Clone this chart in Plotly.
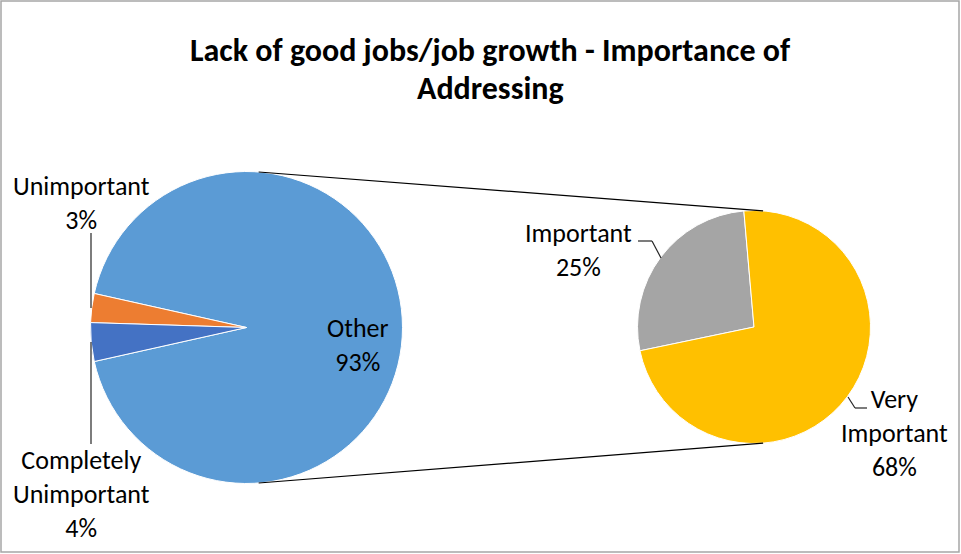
import math
import plotly.graph_objects as go

# ---- data ----
main_labels = ["Other", "Unimportant", "Completely Unimportant"]
main_values = [93, 3, 4]
main_colors = ["#5B9BD5", "#ED7D31", "#4472C4"]

sub_labels = ["Important", "Very Important"]
sub_values = [25, 68]
sub_colors = ["#A5A5A5", "#FFC000"]

title_lines = ["Lack of good jobs/job growth - Importance of", "Addressing"]

W, H = 961, 554
FONT = "Calibri, Carlito, Lato, sans-serif"

# ---- geometry (pixels) ----
c1 = (246.5, 327.5); r1 = 156.0   # main pie
c2 = (754.0, 327.0); r2 = 116.5   # secondary pie


def px(x):
    return x / W


def py(y):
    return 1 - y / H


def domain(c, r):
    return dict(x=[px(c[0] - r), px(c[0] + r)], y=[py(c[1] + r), py(c[1] - r)])


# With direction="counterclockwise" plotly places the first slice clockwise
# from `rotation`; later slices continue counterclockwise from it.
# main pie: "Other" centred on the right, small slices grouped on the left
small_deg = (100 - main_values[0]) / 100 * 360
main_rotation = 90 - (180 - small_deg / 2)

# secondary pie: "Important" starts just left of 12 o'clock, runs counterclockwise
sub_total = sum(sub_values)
sub_rotation = -5 - sub_values[0] / sub_total * 360

fig = go.Figure()
fig.add_trace(go.Pie(
    labels=main_labels, values=main_values, sort=False,
    direction="counterclockwise", rotation=main_rotation,
    marker=dict(colors=main_colors, line=dict(color="white", width=1)),
    textinfo="none", hoverinfo="label+percent", showlegend=False,
    domain=domain(c1, r1),
))
fig.add_trace(go.Pie(
    labels=sub_labels, values=sub_values, sort=False,
    direction="counterclockwise", rotation=sub_rotation,
    marker=dict(colors=sub_colors, line=dict(color="white", width=1)),
    textinfo="none", hoverinfo="label+value", showlegend=False,
    domain=domain(c2, r2),
))

shapes = []
# outer tangent lines joining the two pies
d = c2[0] - c1[0]
s = (r1 - r2) / d
co = math.sqrt(1 - s * s)
for sign in (-1, 1):
    x0 = c1[0] + r1 * s; y0 = c1[1] + sign * r1 * co
    x1 = c2[0] + r2 * s; y1 = c2[1] + sign * r2 * co
    shapes.append(dict(type="line", xref="paper", yref="paper",
                       x0=px(x0), y0=py(y0), x1=px(x1), y1=py(y1),
                       line=dict(color="black", width=1.2)))

# leader lines for the outside labels
leaders = [
    [(91, 233), (91, 308)],
    [(91, 342), (91, 444)],
    [(638, 241), (652, 241), (661, 258)],
    [(867, 408), (855, 408), (848, 397)],
]
for pts in leaders:
    for (ax, ay), (bx, by) in zip(pts[:-1], pts[1:]):
        shapes.append(dict(type="line", xref="paper", yref="paper",
                           x0=px(ax), y0=py(ay), x1=px(bx), y1=py(by),
                           line=dict(color="#262626", width=1.2)))

# chart border
shapes.append(dict(type="rect", xref="paper", yref="paper",
                   x0=px(1), y0=py(552), x1=px(959), y1=py(1),
                   line=dict(color="#A6A6A6", width=1.5)))

annotations = []
# title, one line per annotation
for line, y in zip(title_lines, (51, 88)):
    annotations.append(dict(text="<b>" + line + "</b>",
                            x=px(490), y=py(y), xref="paper", yref="paper",
                            showarrow=False, xanchor="center", yanchor="middle",
                            font=dict(family=FONT, size=32, color="black")))

label_pos = {
    "Other": (358, 345),
    "Unimportant": (81, 203),
    "Completely Unimportant": (81, 494),
    "Important": (578, 250),
    "Very Important": (894, 433),
}
for names, vals in ((main_labels, main_values), (sub_labels, sub_values)):
    for name, v in zip(names, vals):
        if name in ("Unimportant", "Important"):
            txt = f"{name}<br>{v}%"
        else:
            txt = f"{name.replace(' ', '<br>')}<br>{v}%"
        x, y = label_pos[name]
        annotations.append(dict(text=txt, x=px(x), y=py(y), xref="paper", yref="paper",
                                showarrow=False, xanchor="center", yanchor="middle",
                                align="center",
                                font=dict(family=FONT, size=26, color="black")))

fig.update_layout(
    width=W, height=H, autosize=False,
    margin=dict(l=0, r=0, t=0, b=0),
    paper_bgcolor="white", plot_bgcolor="white",
    shapes=shapes, annotations=annotations,
)
fig.write_html("out.html")
